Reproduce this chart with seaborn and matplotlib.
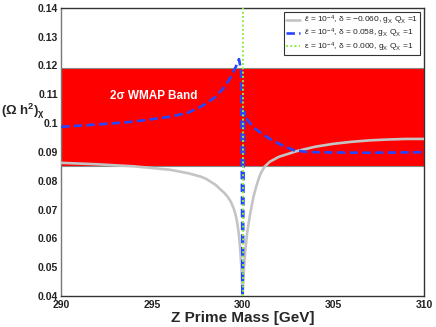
import matplotlib
matplotlib.use("Agg")
import matplotlib.pyplot as plt
import pandas as pd
import seaborn as sns

sns.set_theme(style="white")
plt.rcParams["font.family"] = ["Liberation Sans", "DejaVu Sans"]
plt.rcParams["mathtext.fontset"] = "custom"
plt.rcParams["mathtext.rm"] = "Liberation Sans"
plt.rcParams["mathtext.it"] = "Liberation Sans:italic"
plt.rcParams["mathtext.bf"] = "Liberation Sans:bold"

# delta = -0.060 (gray)
mass_neg = [290, 292, 294, 296, 297, 297.7, 298, 298.5, 299, 299.2, 299.35, 299.5,
            299.6, 299.7, 299.8, 299.87, 299.93, 299.97, 300.0, 300.03, 300.08, 300.15,
            300.25, 300.4, 300.5, 300.6, 300.75, 300.9, 301.0, 301.2, 301.5,
            302, 302.6, 303, 304, 305, 306, 307, 308, 309, 310]
omega_neg = [0.0862, 0.0857, 0.0850, 0.0838, 0.0826, 0.0814, 0.0806, 0.0786, 0.0757,
             0.0742, 0.0727, 0.0705, 0.0685, 0.0655, 0.0610, 0.0560, 0.0500, 0.0440,
             0.0400, 0.0440, 0.0500, 0.0560, 0.0620, 0.0680, 0.0713, 0.0745, 0.0780,
             0.0810, 0.0826, 0.0848, 0.0866, 0.0883, 0.0895, 0.0903, 0.0918, 0.0928,
             0.0935, 0.0940, 0.0943, 0.0945, 0.0945]

# delta = 0.058 (blue)
mass_pos = [290, 292, 294, 296, 297, 297.7, 298.5, 299, 299.3, 299.5, 299.7, 299.8,
            299.92, 300.0, 300.0, 300.08, 300.15, 300.4, 300.7, 301, 301.5, 302.1,
            302.8, 303.5, 304, 305, 307, 310]
omega_pos = [0.0987, 0.0995, 0.1005, 0.1022, 0.1036, 0.1057, 0.1090, 0.1125, 0.1155,
             0.1180, 0.1205, 0.1222, 0.1180, 0.0400, 0.0400, 0.1040, 0.1020, 0.1000,
             0.0980, 0.0966, 0.0945, 0.0925, 0.0906, 0.0900, 0.0899, 0.0898, 0.0897,
             0.0899]

# delta = 0.000 (green), only visible as a spike at the pole
mass_zero = [300.0, 300.0]
omega_zero = [0.04, 0.14]

wmap_low, wmap_high = 0.085, 0.119

x_ticks = [290, 295, 300, 305, 310]
y_ticks = [0.04, 0.05, 0.06, 0.07, 0.08, 0.09, 0.10, 0.11, 0.12, 0.13, 0.14]
y_tick_labels = ["0.04", "0.05", "0.06", "0.07", "0.08", "0.09", "0.1",
                 "0.11", "0.12", "0.13", "0.14"]

labels = [
    r"$\bar{\epsilon}$ = 10$^{-4}$, δ = −0.060, g$_\mathrm{X}$ Q$_\mathrm{X}$ =1",
    r"$\bar{\epsilon}$ = 10$^{-4}$, δ = 0.058, g$_\mathrm{X}$ Q$_\mathrm{X}$ =1",
    r"ε = 10$^{-4}$, δ = 0.000, g$_\mathrm{X}$ Q$_\mathrm{X}$ =1",
]

df_neg = pd.DataFrame({"mass": mass_neg, "omega": omega_neg})
df_pos = pd.DataFrame({"mass": mass_pos, "omega": omega_pos})
df_zero = pd.DataFrame({"mass": mass_zero, "omega": omega_zero})

fig = plt.figure(figsize=(4.36, 3.27), dpi=100)
ax = fig.add_axes([0.140, 0.095, 0.833, 0.881])

ax.axhspan(wmap_low, wmap_high, facecolor="#ff0000", edgecolor="#888888", lw=0.8, zorder=1)
ax.text(295.1, 0.1095, "2σ WMAP Band", color="white", fontsize=8.5,
        fontweight="bold", ha="center", va="center", zorder=2)

sns.lineplot(data=df_neg, x="mass", y="omega", ax=ax, sort=False, estimator=None,
             color="#c4c4c4", linewidth=1.9, label=labels[0], zorder=3)
sns.lineplot(data=df_pos, x="mass", y="omega", ax=ax, sort=False, estimator=None,
             color="#2646ff", linewidth=1.9, dashes=(3.2, 1.6), label=labels[1], zorder=4)
sns.lineplot(data=df_zero, x="mass", y="omega", ax=ax, sort=False, estimator=None,
             color="#8cf040", linewidth=1.4, linestyle=(0, (1, 1.2)), label=labels[2], zorder=5)

ax.set_xlim(290, 310)
ax.set_ylim(0.04, 0.14)
ax.set_xticks(x_ticks)
ax.set_yticks(y_ticks)
ax.set_yticklabels(y_tick_labels)
ax.tick_params(direction="in", length=3, width=0.8, labelsize=7.5, colors="#222222",
               top=False, right=False)
for lab in ax.get_xticklabels() + ax.get_yticklabels():
    lab.set_fontweight("bold")
ax.tick_params(axis="x", pad=3)
ax.tick_params(axis="y", pad=2)
for side in ["left", "bottom", "right", "top"]:
    ax.spines[side].set_color("#333333")
    ax.spines[side].set_linewidth(1.0)
ax.spines["left"].set_color("#777777")

ax.set_xlabel("Z Prime Mass [GeV]", fontsize=11, fontweight="bold", labelpad=1)
ax.set_ylabel(r"(Ω h$^\mathbf{2}$)$_\mathbf{χ}$", fontsize=9.5, fontweight="bold",
              rotation=0, labelpad=0, ha="left", va="center")
ax.yaxis.set_label_coords(-0.165, 0.64)

leg = ax.legend(loc="upper right", fontsize=6, frameon=True, fancybox=False,
                edgecolor="black", handlelength=1.7, borderpad=0.2,
                labelspacing=0.0, handletextpad=0.5, borderaxespad=0.5)
leg.get_frame().set_linewidth(0.8)

fig.savefig("out.png", dpi=100)
